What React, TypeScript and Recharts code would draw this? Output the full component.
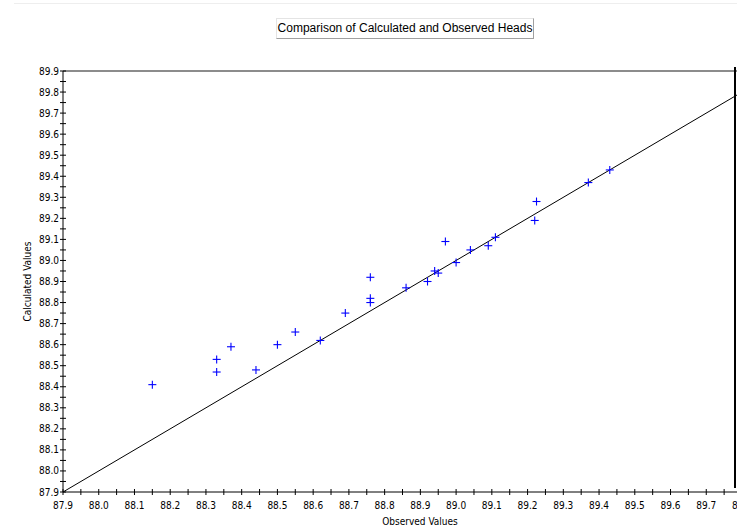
import React from "react";
import { ScatterChart, Scatter, XAxis, YAxis, ReferenceLine } from "recharts";

const observed = [
  88.15, 88.33, 88.33, 88.37, 88.44, 88.5, 88.55, 88.62, 88.69, 88.76, 88.76, 88.76, 88.86,
  88.92, 88.94, 88.95, 88.97, 89.0, 89.04, 89.09, 89.11, 89.225, 89.22, 89.37, 89.43,
];
const calculated = [
  88.41, 88.53, 88.47, 88.59, 88.48, 88.6, 88.66, 88.62, 88.75, 88.92, 88.82, 88.8, 88.87,
  88.9, 88.95, 88.94, 89.09, 88.99, 89.05, 89.07, 89.11, 89.28, 89.19, 89.37, 89.43,
];

const xTicks = [
  87.9, 87.95, 88.0, 88.05, 88.1, 88.15, 88.2, 88.25, 88.3, 88.35, 88.4, 88.45, 88.5, 88.55,
  88.6, 88.65, 88.7, 88.75, 88.8, 88.85, 88.9, 88.95, 89.0, 89.05, 89.1, 89.15, 89.2, 89.25,
  89.3, 89.35, 89.4, 89.45, 89.5, 89.55, 89.6, 89.65, 89.7, 89.75, 89.8,
];
const yTicks = [...xTicks, 89.85, 89.9];

const xDomain = [87.9, 89.8];
const yDomain = [87.9, 89.9];

const points = observed.map((o, i) => ({ obs: o, calc: calculated[i] }));

const FONT = "'Liberation Sans Narrow', 'DejaVu Sans Condensed', 'Liberation Sans', sans-serif";
const isMajor = (v: number) => Math.round(v * 20) % 2 === 0;

function XTick({ x, y, payload }: any) {
  const v = payload.value;
  return (
    <g>
      <line x1={x} x2={x} y1={y - 3} y2={y + 3} stroke="#000" />
      {isMajor(v) && (
        <text x={x} y={y + 17} textAnchor="middle" fontSize={10} fontFamily={FONT} fill="#000">
          {v.toFixed(1)}
        </text>
      )}
    </g>
  );
}

function YTick({ x, y, payload }: any) {
  const v = payload.value;
  return (
    <g>
      <line x1={x - 3} x2={x + 3} y1={y} y2={y} stroke="#000" />
      {isMajor(v) && (
        <text x={x - 4} y={y + 3.5} textAnchor="end" fontSize={10} fontFamily={FONT} fill="#000">
          {v.toFixed(1)}
        </text>
      )}
    </g>
  );
}

function Cross({ cx, cy }: any) {
  return (
    <g stroke="#0000ff" strokeWidth={1.1}>
      <line x1={cx - 4} x2={cx + 4} y1={cy} y2={cy} />
      <line x1={cx} x2={cx} y1={cy - 4} y2={cy + 4} />
    </g>
  );
}

export default function App() {
  return (
    <div
      style={{
        position: "absolute",
        left: 0,
        top: 0,
        width: 737,
        height: 530,
        overflow: "hidden",
        background: "#fff",
      }}
    >
      <div style={{ position: "absolute", left: 14, right: 0, top: 3, height: 1, background: "#eeeeee" }} />
      <div
        style={{
          position: "absolute",
          left: 276,
          top: 18,
          width: 258,
          height: 21,
          boxSizing: "border-box",
          border: "1px solid",
          borderColor: "#e4e4e4 #a0a0a0 #a0a0a0 #e4e4e4",
          fontFamily: "'Liberation Sans', Arial, sans-serif",
          fontSize: 12,
          lineHeight: "19px",
          textAlign: "center",
          color: "#000",
        }}
      >
        Comparison of Calculated and Observed Heads
      </div>
      <ScatterChart width={760} height={530} margin={{ top: 71, right: 18, bottom: 0, left: 0 }}>
        <XAxis
          type="number"
          dataKey="obs"
          domain={xDomain}
          ticks={xTicks}
          interval={0}
          allowDataOverflow
          height={38}
          tickSize={0}
          tickMargin={0}
          tickLine={false}
          tick={<XTick />}
          axisLine={{ stroke: "#000" }}
          label={{
            content: ({ viewBox }: any) => (
              <text x={viewBox.x + 357} y={viewBox.y + 33} textAnchor="middle" fontSize={10} fontFamily={FONT}>
                Observed Values
              </text>
            ),
          }}
        />
        <YAxis
          type="number"
          dataKey="calc"
          domain={yDomain}
          ticks={yTicks}
          interval={0}
          allowDataOverflow
          width={63}
          tickSize={0}
          tickMargin={0}
          tickLine={false}
          tick={<YTick />}
          axisLine={{ stroke: "#000" }}
          label={{
            content: ({ viewBox }: any) => {
              const cx = viewBox.x + 31;
              const cy = viewBox.y + viewBox.height / 2;
              return (
                <text
                  x={cx}
                  y={cy}
                  transform={`rotate(-90 ${cx} ${cy})`}
                  textAnchor="middle"
                  fontSize={10}
                  fontFamily={FONT}
                >
                  Calculated Values
                </text>
              );
            },
          }}
        />
        <ReferenceLine y={89.9} stroke="#8c8c8c" strokeWidth={2} />
        <ReferenceLine
          segment={[
            { x: xDomain[0], y: xDomain[0] },
            { x: xDomain[1], y: xDomain[1] },
          ]}
          stroke="#000"
          strokeWidth={1}
        />
        <Scatter data={points} shape={<Cross />} isAnimationActive={false} />
      </ScatterChart>
      <div style={{ position: "absolute", left: 734, top: 67, width: 2, height: 421, background: "#000" }} />
    </div>
  );
}
